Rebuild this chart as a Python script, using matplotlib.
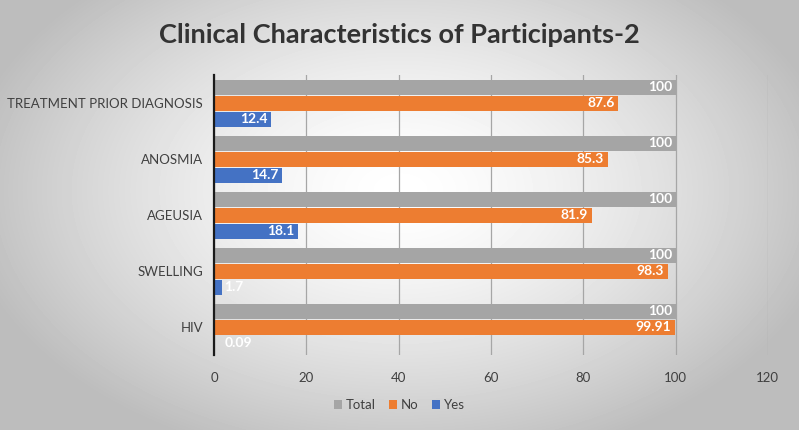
import numpy as np
import matplotlib
matplotlib.use('Agg')
import matplotlib.pyplot as plt

# Chart data
categories = ['HIV', 'SWELLING', 'AGEUSIA', 'ANOSMIA', 'TREATMENT PRIOR DIAGNOSIS']
yes_vals = [0.09, 1.7, 18.1, 14.7, 12.4]
no_vals = [99.91, 98.3, 81.9, 85.3, 87.6]
total_vals = [100, 100, 100, 100, 100]
x_ticks = [0, 20, 40, 60, 80, 100, 120]

plt.rcParams['font.family'] = ['Lato', 'DejaVu Sans']

c_total = '#a5a5a5'
c_no = '#ed7d31'
c_yes = '#4472c4'


def main():
    fig = plt.figure(figsize=(7.99, 4.30), dpi=100)

    # radial grey background
    bg = fig.add_axes([0, 0, 1, 1], zorder=-10)
    yy, xx = np.mgrid[0:430, 0:799]
    r = np.sqrt(((xx - 400) / 440.0) ** 2 + ((yy - 190) / 280.0) ** 2)
    shade = 1.0 - 0.26 * np.clip(r, 0, 1) ** 1.5
    bg.imshow(shade, cmap='gray', vmin=0, vmax=1, aspect='auto',
              extent=[0, 1, 0, 1])
    bg.axis('off')

    ax = fig.add_axes([0.268, 0.174, 0.693, 0.651])
    ax.patch.set_alpha(0)

    y = np.arange(len(categories))
    h = 0.27
    off = 0.285
    series = [(total_vals, y + off, c_total, 'Total'),
              (no_vals, y, c_no, 'No'),
              (yes_vals, y - off, c_yes, 'Yes')]
    for vals, pos, col, name in series:
        bars = ax.barh(pos, vals, height=h, color=col, label=name, zorder=3)
        for b, v in zip(bars, vals):
            cy = b.get_y() + b.get_height() / 2
            if v < 5:
                ax.text(2.2, cy, f'{v:g}', ha='left', va='center',
                        color='white', fontsize=10, fontweight='bold', zorder=4)
            else:
                ax.text(v - 0.8, cy, f'{v:g}', ha='right', va='center',
                        color='white', fontsize=10, fontweight='bold', zorder=4)

    ax.set_xlim(0, 120)
    ax.set_ylim(-0.5, len(categories) - 0.5)
    ax.set_xticks(x_ticks)
    ax.set_yticks(y)
    ax.set_yticklabels(categories)
    ax.tick_params(axis='both', length=0, labelsize=9.5, colors='#404040')
    ax.tick_params(axis='x', pad=12)
    ax.tick_params(axis='y', pad=8)
    ax.grid(axis='x', color='#a6a6a6', linewidth=0.9, zorder=0)
    for s in ['top', 'right', 'bottom']:
        ax.spines[s].set_visible(False)
    ax.spines['left'].set_color('#1a1a1a')
    ax.spines['left'].set_linewidth(1.6)
    ax.spines['left'].set_zorder(5)

    fig.text(0.5, 0.918, 'Clinical Characteristics of Participants-2',
             ha='center', va='center', fontsize=19.5, fontweight='bold',
             color='#333333')

    leg = fig.legend(loc='center', bbox_to_anchor=(0.5, 0.058), ncol=3,
                     frameon=False, fontsize=9.5, handlelength=0.6,
                     handleheight=0.6, handletextpad=0.3, columnspacing=1.0)
    for t in leg.get_texts():
        t.set_color('#404040')

    fig.savefig('out.png', dpi=100)


if __name__ == "__main__":
    main()
